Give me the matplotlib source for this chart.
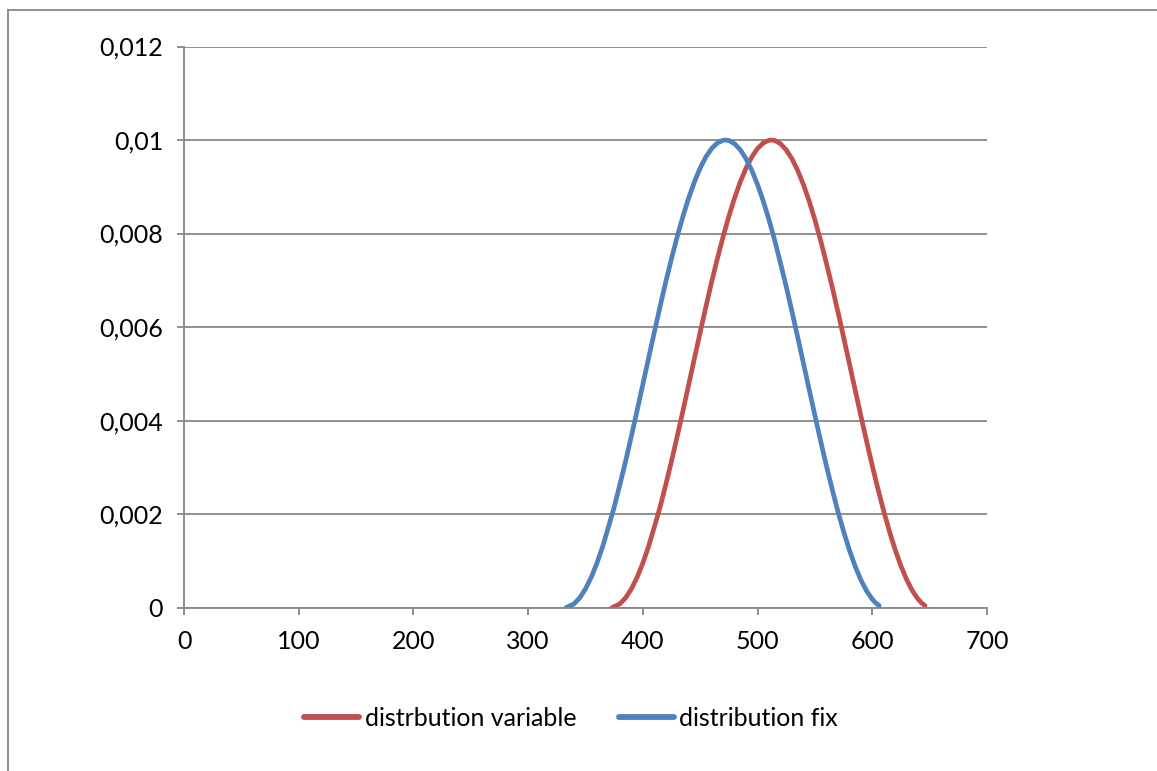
import matplotlib
matplotlib.use("Agg")
import matplotlib.pyplot as plt
from matplotlib.lines import Line2D
from matplotlib.ticker import FuncFormatter, MultipleLocator

# Series values
x_variable = [373, 380, 385, 390, 395, 400, 405, 410, 415, 420, 425, 430, 435,
              440, 445, 450, 455, 460, 465, 470, 475, 480, 485, 490, 495, 500,
              505, 510, 512, 515, 520, 525, 530, 535, 540, 545, 550, 555, 560,
              565, 570, 575, 580, 585, 590, 595, 600, 605, 610, 615, 620, 625,
              630, 635, 640, 643, 646]
y_variable = [0.0, 0.000082, 0.000212, 0.000402, 0.000651, 0.000955, 0.001311,
              0.001726, 0.002150, 0.002635, 0.003136, 0.003670, 0.004217,
              0.004776, 0.005336, 0.005892, 0.006438, 0.006971, 0.007467,
              0.007939, 0.008373, 0.008765, 0.009110, 0.009403, 0.009641,
              0.009820, 0.009938, 0.009995, 0.010000, 0.009989, 0.009920,
              0.009789, 0.009598, 0.009349, 0.009045, 0.008691, 0.008290,
              0.007849, 0.007366, 0.006864, 0.006330, 0.005782, 0.005224,
              0.004664, 0.004108, 0.003562, 0.003033, 0.002536, 0.002061,
              0.001629, 0.001235, 0.000890, 0.000597, 0.000360, 0.000180,
              0.000101, 0.000045]

x_fix = [333, 340, 345, 350, 355, 360, 365, 370, 375, 380, 385, 390, 395,
         400, 405, 410, 415, 420, 425, 430, 435, 440, 445, 450, 455, 460,
         465, 470, 472, 475, 480, 485, 490, 495, 500, 505, 510, 515, 520,
         525, 530, 535, 540, 545, 550, 555, 560, 565, 570, 575, 580, 585,
         590, 595, 600, 603, 606]
y_fix = [0.0, 0.000082, 0.000212, 0.000402, 0.000651, 0.000955, 0.001311,
         0.001726, 0.002150, 0.002635, 0.003136, 0.003670, 0.004217,
         0.004776, 0.005336, 0.005892, 0.006438, 0.006971, 0.007467,
         0.007939, 0.008373, 0.008765, 0.009110, 0.009403, 0.009641,
         0.009820, 0.009938, 0.009995, 0.010000, 0.009989, 0.009920,
         0.009789, 0.009598, 0.009349, 0.009045, 0.008691, 0.008290,
         0.007849, 0.007366, 0.006864, 0.006330, 0.005782, 0.005224,
         0.004664, 0.004108, 0.003562, 0.003033, 0.002536, 0.002061,
         0.001629, 0.001235, 0.000890, 0.000597, 0.000360, 0.000180,
         0.000101, 0.000045]

series_labels = ["distrbution variable", "distribution fix"]
series_colors = ["#C0504D", "#4F81BD"]

plt.rcParams["font.family"] = ["Lato", "DejaVu Sans"]

W, H = 1157, 771
fig = plt.figure(figsize=(W / 100, H / 100), dpi=100)
fig.patch.set_facecolor("white")

left, right, bottom, top = 184, 987, 607.7, 46.5
ax = fig.add_axes([left / W, 1 - bottom / H, (right - left) / W, (bottom - top) / H])

grey = "#878787"
ax.plot(x_variable, y_variable, color=series_colors[0], lw=3.4,
        solid_capstyle="round", solid_joinstyle="round", label=series_labels[0])
ax.plot(x_fix, y_fix, color=series_colors[1], lw=3.4,
        solid_capstyle="round", solid_joinstyle="round", label=series_labels[1])

ax.set_xlim(0, 700)
ax.set_ylim(0, 0.012)
ax.xaxis.set_major_locator(MultipleLocator(100))
ax.yaxis.set_major_locator(MultipleLocator(0.002))


def comma_fmt(v, pos):
    if abs(v) < 1e-12:
        return "0"
    return f"{v:g}".replace(".", ",")


ax.yaxis.set_major_formatter(FuncFormatter(comma_fmt))
ax.xaxis.set_major_formatter(FuncFormatter(lambda v, p: f"{v:.0f}"))

ax.grid(axis="y", color=grey, lw=1.3)
ax.set_axisbelow(True)
for s in ["top", "right"]:
    ax.spines[s].set_visible(False)
for s in ["left", "bottom"]:
    ax.spines[s].set_color(grey)
    ax.spines[s].set_linewidth(1.3)
ax.tick_params(axis="both", colors=grey, labelcolor="black", labelsize=18,
               length=5, width=1.3, direction="out")
ax.tick_params(axis="y", pad=10)
ax.tick_params(axis="x", pad=11)

handles = [Line2D([], [], color=c, lw=4.2, solid_capstyle="round") for c in series_colors]
fig.legend(handles, series_labels, loc="center", bbox_to_anchor=(571 / W, 1 - 718 / H),
           ncol=2, frameon=False, fontsize=18, handlelength=2.2,
           handletextpad=0.22, columnspacing=1.7)

# Chart area border (top and left edges)
fig.add_artist(Line2D([8 / W, 1.0], [1 - 10 / H, 1 - 10 / H], color=grey, lw=1.3,
                      transform=fig.transFigure))
fig.add_artist(Line2D([8 / W, 8 / W], [0.0, 1 - 10 / H], color=grey, lw=1.3,
                      transform=fig.transFigure))

fig.savefig("out.png", dpi=100, facecolor="white")
